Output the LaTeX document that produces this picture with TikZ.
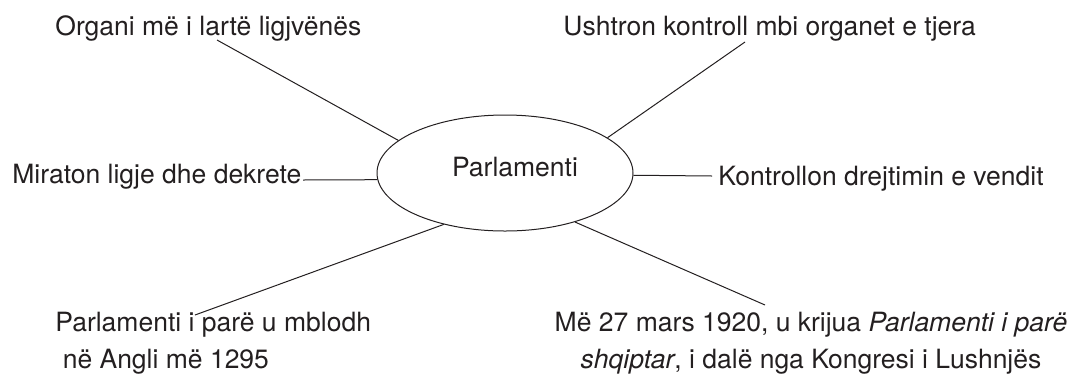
\documentclass[tikz,border=0pt]{standalone}
\usepackage{fontspec}
\setmainfont{TeX Gyre Heros}
\usetikzlibrary{shapes.geometric}
\definecolor{ink}{RGB}{35,31,32}

\begin{document}
\begin{tikzpicture}[
  x=0.5pt, y=-0.5pt,
  every node/.style={font=\fontsize{13.25}{18.5}\selectfont, inner sep=0pt, text=ink},
  hub/.style={ellipse, draw=ink, line width=0.5pt, minimum width=128pt, minimum height=58pt},
  spoke/.style={draw=ink, line width=0.5pt},
  leaf/.style={anchor=base west}
]
\useasboundingbox (0,0) rectangle (1080,376);

% centre
\node[hub, label={[xshift=5pt, yshift=2.75pt]center:Parlamenti}] (parl) at (505,173) {};

% texts round it
\node[leaf] (organ) at (55,35) {Organi më i lartë ligjvënës};
\node[leaf] (ushtron) at (563,35) {Ushtron kontroll mbi organet e tjera};
\node[leaf] (miraton) at (12,183) {Miraton ligje dhe dekrete};
\node[leaf] (kontroll) at (718,185) {Kontrollon drejtimin e vendit};
\node[anchor=north west, align=left] (anglia) at (55,312)
  {Parlamenti i parë u mblodh\\\ në Angli më 1295};
\node[anchor=north, align=center] (lushnja) at (811,312)
  {Më 27 mars 1920, u krijua \textit{Parlamenti i parë}\\\textit{shqiptar}, i dalë nga Kongresi i Lushnjës};

% free ends of the spokes
\coordinate (organEnd) at (217,40);
\coordinate (ushtronEnd) at (745,42);
\coordinate (miratonEnd) at (303,180);
\coordinate (kontrollEnd) at (712,176);
\coordinate (angliaEnd) at (195,315);
\coordinate (lushnjaEnd) at (765,305);

\draw[spoke] (parl.163) -- (organEnd);
\draw[spoke] (parl.19) -- (ushtronEnd);
\draw[spoke] (parl.183) -- (miratonEnd);
\draw[spoke] (parl.-1) -- (kontrollEnd);
\draw[spoke] (parl.220) -- (angliaEnd);
\draw[spoke] (parl.325) -- (lushnjaEnd);
\end{tikzpicture}
\end{document}
